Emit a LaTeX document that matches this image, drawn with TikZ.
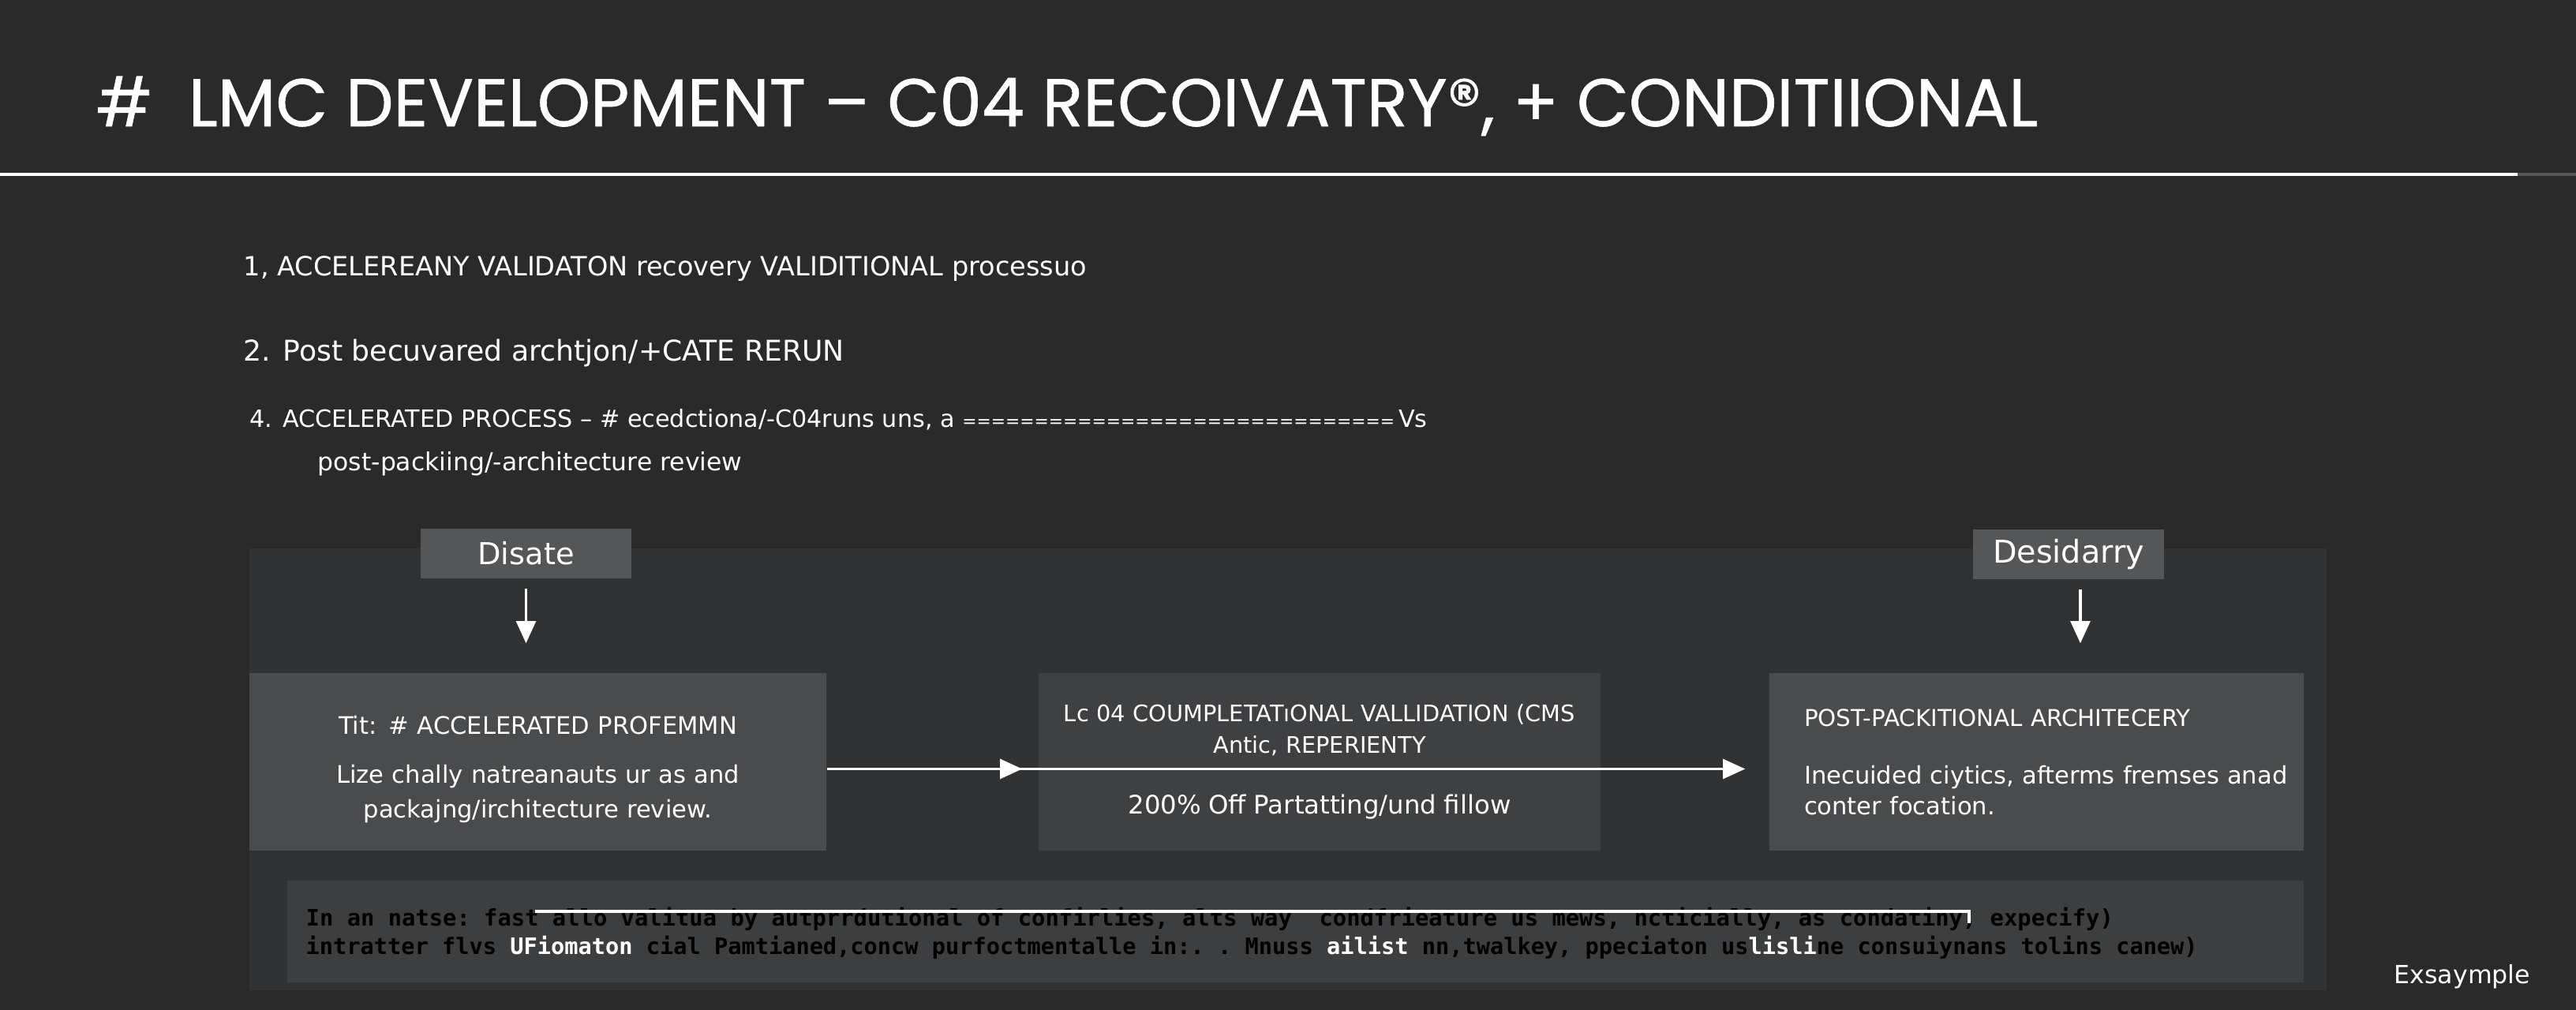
\documentclass[tikz,border=0pt]{standalone}
\usepackage{fontspec}
\setmainfont{DejaVu Sans}
\setmonofont{DejaVu Sans Mono}
\newfontfamily\titlefont{Poppins}[FakeBold=0.7]
\usetikzlibrary{arrows.meta}
\definecolor{bgdark}{HTML}{2A2A2B}
\definecolor{paneldark}{HTML}{313233}
\definecolor{boxgrey}{HTML}{4A4B4D}
\definecolor{boxmid}{HTML}{3F4042}
\definecolor{tabgrey}{HTML}{555657}
\definecolor{notegrey}{HTML}{3D3E3F}
\newcommand{\fs}[1]{\fontsize{#1}{11}\selectfont}
\tikzset{
  stage/.style={fill=boxgrey, text=white, minimum height=2.25cm, inner ysep=0pt,
    font=\fs{8.7}},
  tab/.style={fill=tabgrey, text=white, inner sep=0pt, minimum height=0.63cm,
    font=\fs{10.9}},
  flow/.style={-{Triangle[width=7pt,length=8pt]}, white, line width=1.1pt},
  listitem/.style={anchor=base west, text=white, inner sep=0pt}
}

\begin{document}
\begin{tikzpicture}[y=-1cm]
\useasboundingbox (0,0) rectangle (32.64,12.8);
\fill[bgdark] (0,0) rectangle (32.64,12.8);

% heading
\node[listitem, font=\titlefont\fontsize{24.3}{28}\selectfont] (title) at (1.21,1.60)
  {\#\ \ LMC DEVELOPMENT – C04 RECOIVATRY®, + CONDITIIONAL};
\draw[white, line width=0.9pt] (0,2.21) -- (31.90,2.21);
\draw[tabgrey, line width=0.9pt] (31.90,2.21) -- (32.64,2.21);

% numbered notes
\node[listitem, font=\fs{9.55}] (item1) at (3.08,3.50)
  {1, ACCELEREANY VALIDATON recovery VALIDITIONAL processuo};
\node[listitem, font=\fs{10.3}] (item2) at (3.08,4.58)
  {2. Post becuvared archtjon/+CATE RERUN};
\node[listitem, font=\fs{8.6}] (item4) at (3.16,5.42)
  {4. ACCELERATED PROCESS – \# ecedctiona/-C04runs uns, a {\fs{6.2}==============================}\,Vs};
\node[listitem, font=\fs{8.95}] (item4b) at (4.02,5.97)
  {post-packiing/-architecture review};

% flow panel
\fill[paneldark] (3.16,6.95) rectangle (29.48,12.55);

\node[tab, minimum width=2.67cm] (disate) at (6.665,7.015) {Disate};
\node[tab, minimum width=2.42cm, font=\fs{11.3}] (desidarry) at (26.21,7.025) {Desidarry};

\node[stage, minimum width=7.31cm, text width=6.71cm, align=center] (accel) at (6.815,9.655)
  {\rule{0pt}{12pt}Tit: \# ACCELERATED PROFEMMN\\[6.6pt]
   Lize chally natreanauts ur as and\\[1.5pt]
   packajng/irchitecture review.};
\node[stage, fill=boxmid, minimum width=7.12cm, text width=6.52cm, align=center, font=\fs{8.2}] (valid) at (16.72,9.655)
  {Lc 04 COUMPLETATıONAL VALLIDATION (CMS\\[0.4pt]
   Antic, REPERIENTY\\[10.9pt]
   {\fs{9.2}200\% Off Partatting/und fillow}};
\node[stage, minimum width=6.77cm, text width=5.89cm, align=left] (post) at (25.805,9.655)
  {{\fs{8.35}POST-PACKITIONAL ARCHITECERY}\\[9.8pt]
   \mbox{Inecuided ciytics, afterms fremses anad}\\[0.1pt]
   conter focation.};

\draw[flow, shorten <=1.2mm, shorten >=3.7mm] (disate.south) -- (disate.south |- accel.north);
\draw[flow, shorten <=1.2mm, shorten >=3.7mm] ([xshift=1.5mm]desidarry.south) -- ([xshift=1.5mm]desidarry.south |- post.north);
\draw[flow] ([yshift=-0.9mm]accel.east) -- ([xshift=-2mm,yshift=-0.9mm]valid.west);
\draw[flow] ([xshift=-3mm,yshift=-0.9mm]valid.west) -- ([xshift=-3mm,yshift=-0.9mm]post.west);

% note strip
\fill[notegrey] (3.64,11.16) rectangle (29.19,12.45);
\node[listitem, text=black, font=\ttfamily\bfseries\fs{8.2}] (note1) at (3.87,11.74)
  {In an natse: fast allo valitua by autprrdutional of confirlies, alts way\ \ condfrieature us mews, ncticially, as condatiny, expecify)};
\node[listitem, text=black, font=\ttfamily\bfseries\fs{8.15}] (note2) at (3.87,12.10)
  {intratter flvs \textcolor{white}{UFiomaton} cial Pamtianed,concw purfoctmentalle in:. . Mnuss \textcolor{white}{ailist} nn,twalkey, ppeciaton us\textcolor{white}{lisli}ne consuiynans tolins canew)};
\draw[white, line width=1pt] (6.78,11.55) -- (24.95,11.55) -- (24.95,11.70);

\node[listitem, font=\fs{9}] (mark) at (30.33,12.47) {Exsaymple};
\end{tikzpicture}
\end{document}
